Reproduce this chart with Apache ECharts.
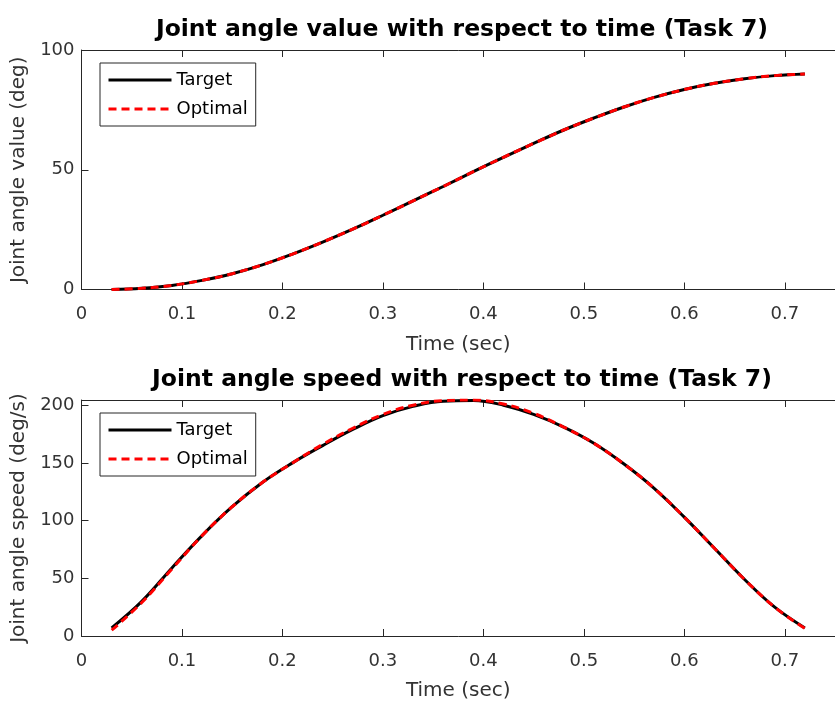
<!DOCTYPE html>
<html>
<head>
<meta charset="utf-8">
<title>Joint angle (Task 7)</title>
<script src="https://cdn.jsdelivr.net/npm/echarts@6/dist/echarts.min.js"></script>
<style>
  html, body { margin: 0; padding: 0; background: #ffffff; }
  #chart { width: 835px; height: 702px; }
</style>
</head>
<body>
<div id="chart"></div>
<script>
// Sample times (s)
var timeSec = [0.03, 0.06, 0.09, 0.12, 0.15, 0.18, 0.21, 0.24, 0.27, 0.30, 0.33, 0.36,
               0.39, 0.42, 0.45, 0.48, 0.51, 0.54, 0.57, 0.60, 0.63, 0.66, 0.69, 0.72];

// Joint angle (deg)
var angleTarget  = [0, 0.5, 1.7, 3.8, 6.6, 10.3, 14.8, 19.8, 25.2, 31.0, 37.0, 43.0,
                    49.2, 55.2, 61.0, 66.6, 71.6, 76.2, 80.2, 83.5, 86.1, 88.0, 89.3, 90.0];
var angleOptimal = [0, 0.5, 1.7, 3.8, 6.6, 10.3, 14.8, 19.8, 25.2, 31.0, 37.0, 43.0,
                    49.2, 55.2, 61.0, 66.6, 71.6, 76.2, 80.2, 83.5, 86.1, 88.0, 89.3, 90.0];

// Joint speed (deg/s)
var speedTarget  = [7, 30, 59, 87, 112, 133, 150, 165, 179, 191, 199, 203.5,
                    204, 200, 192, 181, 167, 149, 128, 103, 76, 49, 25, 7];
var speedOptimal = [5, 29, 58, 87, 112, 133, 150, 166, 180, 192, 200, 204,
                    204.5, 201, 193, 181, 167, 149, 128, 103, 76, 49, 25, 6.5];

// Axis ticks
var xTicks = [0, 0.1, 0.2, 0.3, 0.4, 0.5, 0.6, 0.7];
var angleTicks = [0, 50, 100];
var speedTicks = [0, 50, 100, 150, 200];

var titles = ['Joint angle value with respect to time (Task 7)',
              'Joint angle speed with respect to time (Task 7)'];

function pairs(xs, ys) {
  return xs.map(function (x, i) { return [x, ys[i]]; });
}

var FONT = '"DejaVu Sans", "Liberation Sans", sans-serif';
var AX = '#262626';
var TXT = '#333333';

function xAxisPair(gridIndex) {
  return [{
    type: 'value', gridIndex: gridIndex, position: 'bottom',
    min: 0, max: 0.75,
    name: 'Time (sec)', nameLocation: 'middle', nameGap: 45,
    nameTextStyle: { color: TXT, fontSize: 20, fontFamily: FONT },
    axisLine: { show: true, lineStyle: { color: AX, width: 1 } },
    axisTick: { show: true, inside: true, length: 7, customValues: xTicks, lineStyle: { color: AX } },
    axisLabel: { show: true, margin: 16, customValues: xTicks, color: TXT, fontSize: 18, fontFamily: FONT,
                 formatter: function (v) { return String(v); } },
    splitLine: { show: false }
  }, {
    type: 'value', gridIndex: gridIndex, position: 'top',
    min: 0, max: 0.75,
    axisLine: { show: true, onZero: false, lineStyle: { color: AX, width: 1 } },
    axisTick: { show: true, inside: true, length: 7, customValues: xTicks, lineStyle: { color: AX } },
    axisLabel: { show: false },
    splitLine: { show: false }
  }];
}

function yAxis(gridIndex, max, ticks, name) {
  return {
    type: 'value', gridIndex: gridIndex, min: 0, max: max,
    name: name, nameLocation: 'middle', nameGap: 50, nameRotate: 90,
    nameTextStyle: { color: TXT, fontSize: 20, fontFamily: FONT },
    axisLine: { show: true, onZero: false, lineStyle: { color: AX, width: 1 } },
    axisTick: { show: true, inside: true, length: 7, customValues: ticks, lineStyle: { color: AX } },
    axisLabel: { show: true, margin: 7, customValues: ticks, color: TXT, fontSize: 18, fontFamily: FONT },
    splitLine: { show: false }
  };
}

function legend(top) {
  return {
    left: 100, top: top, orient: 'vertical',
    backgroundColor: '#ffffff',
    borderColor: AX, borderWidth: 1,
    padding: [8, 8, 8, 7],
    itemWidth: 63, itemHeight: 14, itemGap: 11,
    itemStyle: { opacity: 0 },
    lineStyle: { width: 3 },
    textStyle: { color: '#000000', fontSize: 18, fontFamily: FONT },
    data: ['Target', 'Optimal']
  };
}

function lineSeries(name, xIdx, yIdx, data, dashed) {
  return {
    name: name, type: 'line', xAxisIndex: xIdx, yAxisIndex: yIdx,
    data: data, smooth: 0.4, symbol: 'none', showSymbol: false,
    lineStyle: dashed
      ? { color: '#ff0000', width: 3, type: [8, 5] }
      : { color: '#000000', width: 3, type: 'solid' },
    itemStyle: { color: dashed ? '#ff0000' : '#000000' },
    z: dashed ? 3 : 2,
    animation: false
  };
}

var chart = echarts.init(document.getElementById('chart'), null, { renderer: 'canvas' });

chart.setOption({
  backgroundColor: '#ffffff',
  animation: false,
  grid: [
    { left: 81.5, top: 50, width: 762, height: 239.5 },
    { left: 81.5, top: 400, width: 762, height: 240 }
  ],
  xAxis: xAxisPair(0).concat(xAxisPair(1)),
  yAxis: [
    yAxis(0, 100, angleTicks, 'Joint angle value (deg)'),
    yAxis(1, 204.5, speedTicks, 'Joint angle speed (deg/s)')
  ],
  legend: [legend(63), legend(413)],
  graphic: [
    { type: 'text', x: 462, y: 30, style: { text: titles[0], align: 'center', verticalAlign: 'middle',
      fill: '#000000', font: 'bold 23.5px ' + FONT } },
    { type: 'text', x: 462, y: 380, style: { text: titles[1], align: 'center', verticalAlign: 'middle',
      fill: '#000000', font: 'bold 23.5px ' + FONT } }
  ],
  series: [
    lineSeries('Target', 0, 0, pairs(timeSec, angleTarget), false),
    lineSeries('Optimal', 0, 0, pairs(timeSec, angleOptimal), true),
    lineSeries('Target', 2, 1, pairs(timeSec, speedTarget), false),
    lineSeries('Optimal', 2, 1, pairs(timeSec, speedOptimal), true)
  ]
});
</script>
</body>
</html>
